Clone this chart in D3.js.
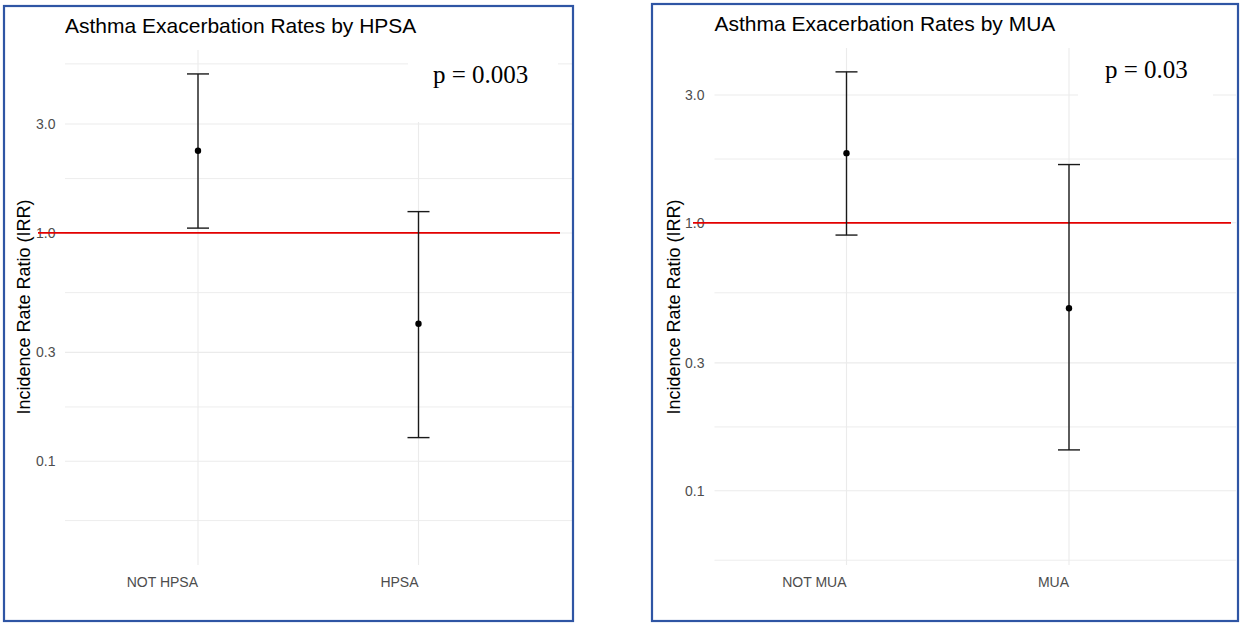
<!DOCTYPE html>
<html>
<head>
<meta charset="utf-8">
<script src="https://cdn.jsdelivr.net/npm/d3@7"></script>
<style>
  body { margin: 0; background: #fff; }
  svg { display: block; font-family: "Liberation Sans", Arial, sans-serif; }
  .grid { stroke: #ebebeb; stroke-width: 1.1; }
  .tick-label { fill: #4d4d4d; font-size: 14px; }
  .title { fill: #000; font-size: 21px; }
  .axis-title { fill: #000; font-size: 18px; }
  .pval { font-family: "Liberation Serif", "Times New Roman", serif; font-size: 25px; fill: #000; }
</style>
</head>
<body>
<svg id="chart" width="1240" height="625"></svg>
<script>
// HPSA panel values (incidence rate ratio, 95% CI)
var hpsaCategories = ['NOT HPSA', 'HPSA'];
var hpsaEstimate = [2.29, 0.40];
var hpsaLower = [1.05, 0.127];
var hpsaUpper = [4.97, 1.24];

// MUA panel values
var muaCategories = ['NOT MUA', 'MUA'];
var muaEstimate = [1.82, 0.48];
var muaLower = [0.90, 0.142];
var muaUpper = [3.66, 1.65];

// Axis breaks
var yTickValues = [0.1, 0.3, 1, 3];
var yTickLabels = ['0.1', '0.3', '1.0', '3.0'];
var yMinorValues = [0.055, 0.173, 0.548, 1.73, 5.5];
var referenceValue = 1;

var titles = ['Asthma Exacerbation Rates by HPSA', 'Asthma Exacerbation Rates by MUA'];
var pValueLabels = ['p = 0.003', 'p = 0.03'];
var yAxisTitle = 'Incidence Rate Ratio (IRR)';

var svg = d3.select('#chart');

// Layout of each panel (pixels)
var panels = [
    {
        cats: hpsaCategories, est: hpsaEstimate, lo: hpsaLower, hi: hpsaUpper,
        title: titles[0], pval: pValueLabels[0],
        box: [4, 6, 569, 615],
        plotLeft: 65, plotRight: 572, plotTop: 50, plotBottom: 565,
        xRange: [198, 418.5], yRange: [461.3, 124],
        titleX: 65, titleY: 33,
        tickRight: 55.5, axisTitleX: 24,
        refX: [38, 560],
        pBox: [408, 42, 150, 80], pX: 433, pY: 83
    },
    {
        cats: muaCategories, est: muaEstimate, lo: muaLower, hi: muaUpper,
        title: titles[1], pval: pValueLabels[1],
        box: [652, 4, 586, 617],
        plotLeft: 714.5, plotRight: 1236, plotTop: 48, plotBottom: 565,
        xRange: [846.5, 1069], yRange: [490.7, 95],
        titleX: 714.5, titleY: 31,
        tickRight: 704.5, axisTitleX: 674,
        refX: [693, 1231],
        pBox: [1078, 42, 135, 80], pX: 1105, pY: 78
    }
];

panels.forEach(function (p) {
    var g = svg.append('g');

    var x = d3.scalePoint().domain(p.cats).range(p.xRange);
    var y = d3.scaleLog().domain([yTickValues[0], yTickValues[yTickValues.length - 1]]).range(p.yRange);

    var inPanel = function (v) {
        return y(v) >= p.plotTop && y(v) <= p.plotBottom;
    };

    // minor + major horizontal gridlines
    g.selectAll('.hminor')
        .data(yMinorValues.filter(inPanel))
        .enter()
        .append('line')
        .attr('class', 'grid')
        .attr('x1', p.plotLeft).attr('x2', p.plotRight)
        .attr('y1', d => y(d)).attr('y2', d => y(d))
        .style('stroke-width', 0.9);

    g.selectAll('.hmajor')
        .data(yTickValues)
        .enter()
        .append('line')
        .attr('class', 'grid')
        .attr('x1', p.plotLeft).attr('x2', p.plotRight)
        .attr('y1', d => y(d)).attr('y2', d => y(d));

    // vertical gridlines
    g.selectAll('.vmajor')
        .data(p.cats)
        .enter()
        .append('line')
        .attr('class', 'grid')
        .attr('x1', d => x(d)).attr('x2', d => x(d))
        .attr('y1', p.plotTop).attr('y2', p.plotBottom);

    // white text box behind the p-value
    g.append('rect')
        .attr('x', p.pBox[0]).attr('y', p.pBox[1])
        .attr('width', p.pBox[2]).attr('height', p.pBox[3])
        .attr('fill', '#fff');

    // y tick labels
    g.selectAll('.ylab')
        .data(yTickValues)
        .enter()
        .append('text')
        .attr('class', 'tick-label')
        .attr('x', p.tickRight)
        .attr('y', d => y(d))
        .attr('dy', '0.36em')
        .attr('text-anchor', 'end')
        .text((d, i) => yTickLabels[i]);

    // x tick labels (right aligned at the category)
    g.selectAll('.xlab')
        .data(p.cats)
        .enter()
        .append('text')
        .attr('class', 'tick-label')
        .attr('x', d => x(d))
        .attr('y', 586.5)
        .attr('text-anchor', 'end')
        .text(d => d);

    // reference line at IRR = 1
    g.append('line')
        .attr('x1', p.refX[0]).attr('x2', p.refX[1])
        .attr('y1', y(referenceValue)).attr('y2', y(referenceValue))
        .attr('stroke', '#e30000')
        .attr('stroke-width', 1.8);

    // error bars
    var bars = g.selectAll('.err')
        .data(p.cats)
        .enter()
        .append('g');

    bars.append('line')
        .attr('x1', d => x(d)).attr('x2', d => x(d))
        .attr('y1', (d, i) => y(p.lo[i])).attr('y2', (d, i) => y(p.hi[i]))
        .attr('stroke', '#1a1a1a').attr('stroke-width', 1.4);

    bars.append('line')
        .attr('x1', d => x(d) - 11).attr('x2', d => x(d) + 11)
        .attr('y1', (d, i) => y(p.lo[i])).attr('y2', (d, i) => y(p.lo[i]))
        .attr('stroke', '#1a1a1a').attr('stroke-width', 1.4);

    bars.append('line')
        .attr('x1', d => x(d) - 11).attr('x2', d => x(d) + 11)
        .attr('y1', (d, i) => y(p.hi[i])).attr('y2', (d, i) => y(p.hi[i]))
        .attr('stroke', '#1a1a1a').attr('stroke-width', 1.4);

    bars.append('circle')
        .attr('cx', d => x(d))
        .attr('cy', (d, i) => y(p.est[i]))
        .attr('r', 3.2)
        .attr('fill', '#000');

    // titles
    g.append('text')
        .attr('class', 'title')
        .attr('x', p.titleX).attr('y', p.titleY)
        .text(p.title);

    g.append('text')
        .attr('class', 'axis-title')
        .attr('transform', 'translate(' + p.axisTitleX + ',' + 307 + ') rotate(-90)')
        .attr('text-anchor', 'middle')
        .attr('dy', '0.35em')
        .text(yAxisTitle);

    g.append('text')
        .attr('class', 'pval')
        .attr('x', p.pX).attr('y', p.pY)
        .text(p.pval);

    // panel border
    g.append('rect')
        .attr('x', p.box[0]).attr('y', p.box[1])
        .attr('width', p.box[2]).attr('height', p.box[3])
        .attr('fill', 'none')
        .attr('stroke', '#2f55a4')
        .attr('stroke-width', 2.2);
});
</script>
</body>
</html>
